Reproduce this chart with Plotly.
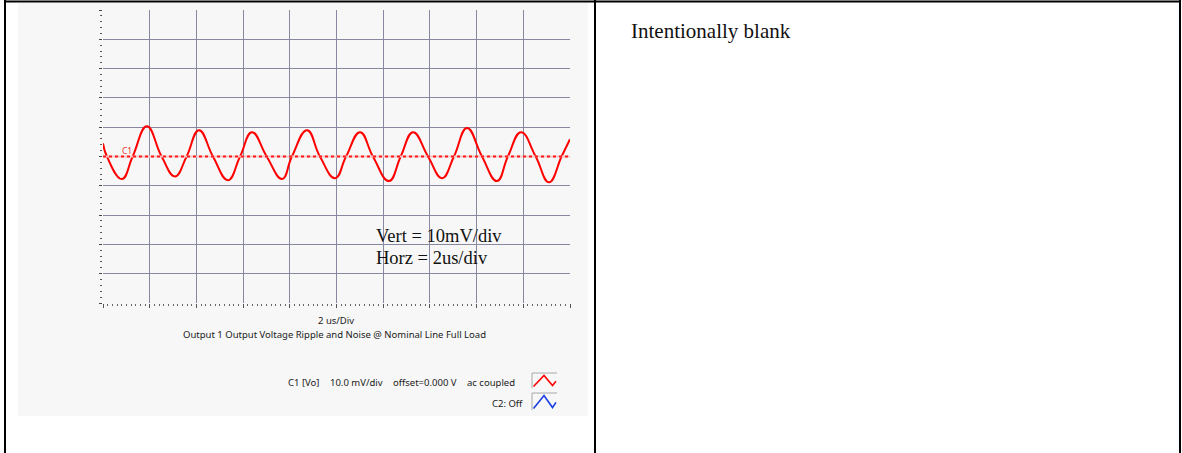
import plotly.graph_objects as go

W, H = 1182, 453

# ---- data: C1 trace, time (us) vs. voltage (mV), read at extrema / zero crossings
t_us = [0.00, 0.17, 0.81, 1.27, 1.88, 2.51, 3.08, 3.58, 4.11, 4.71, 5.35, 5.87,
        6.38, 7.01, 7.67, 8.09, 8.74, 9.29, 9.94, 10.41, 11.01, 11.56, 12.25,
        12.75, 13.28, 13.92, 14.52, 15.03, 15.59, 16.23, 16.87, 17.34, 17.90,
        18.53, 19.10, 19.64, 20.00]
v_mv = [4.5, 0, -7.7, 0, 10.3, 0, -6.8, 0, 9.0, 0, -8.1, 0,
        8.3, 0, -7.7, 0, 9.0, 0, -7.4, 0, 8.3, 0, -8.4,
        0, 8.3, 0, -7.4, 0, 9.7, 0, -8.4, 0, 8.3,
        0, -8.8, 0, 5.9]

x_range = [0, 20]      # 10 div x 2 us
y_range = [-50, 50]    # 10 div x 10 mV
x_div, y_div = 2, 10

title_scale = "2 us/Div"
title_main = "Output 1 Output Voltage Ripple and Noise @ Nominal Line Full Load"
note_lines = ["Vert = 10mV/div", "Horz = 2us/div"]
c1_info = ["C1 [Vo]", "10.0 mV/div", "offset=0.000 V", "ac coupled"]
c2_info = "C2: Off"
right_text = "Intentionally blank"


def px(x):
    return x / W


def py(y):
    return 1 - y / H


fig = go.Figure()
fig.add_trace(go.Scatter(
    x=t_us, y=v_mv, mode="lines",
    line=dict(color="#ff0000", width=2, shape="spline", smoothing=1.3),
    hoverinfo="skip", showlegend=False))

grid_col = "#8888a2"
fig.update_xaxes(
    domain=[px(103), px(570)], range=x_range, tick0=0, dtick=x_div,
    showgrid=True, gridcolor=grid_col, gridwidth=1, zeroline=False,
    showline=False, showticklabels=False, ticks="outside", ticklen=4,
    tickcolor="#555555", tickwidth=1,
    minor=dict(dtick=x_div / 10, ticks="outside", ticklen=2,
               tickcolor="#666666", showgrid=False))
fig.update_yaxes(
    domain=[py(303), py(10)], range=y_range, tick0=0, dtick=y_div,
    showgrid=True, gridcolor=grid_col, gridwidth=1, zeroline=False,
    showline=False, showticklabels=False, ticks="outside", ticklen=3,
    tickcolor="#444444", tickwidth=1,
    minor=dict(dtick=y_div / 5, ticks="outside", ticklen=2,
               tickcolor="#555555", showgrid=False))

shapes = []
# scope screenshot panel
shapes.append(dict(type="rect", xref="paper", yref="paper", layer="below",
                   x0=px(18), x1=px(588), y0=py(416), y1=py(3),
                   fillcolor="#f7f7f7", line=dict(width=0)))
# C1 reference level (dotted, on a faint pink base)
shapes.append(dict(type="line", xref="x", yref="y", x0=x_range[0], x1=x_range[1],
                   y0=0, y1=0, line=dict(color="#f6c4c4", width=2),
                   layer="above"))
shapes.append(dict(type="line", xref="x", yref="y", x0=x_range[0], x1=x_range[1],
                   y0=0, y1=0, line=dict(color="#ff1a1a", width=2, dash="dot"),
                   layer="above"))
# table borders
for (x0, y0, x1, y1) in [(5, 0, 5, H), (4, 1.5, 1181, 1.5), (595, 0, 595, H),
                         (1180, 0, 1180, H)]:
    shapes.append(dict(type="line", xref="paper", yref="paper",
                       x0=px(x0), y0=py(y0), x1=px(x1), y1=py(y1),
                       line=dict(color="black", width=2)))
# channel icons
for top, bot, col in [(373, 388, "#ff0000"), (393, 410, "#1a3fe0")]:
    shapes.append(dict(type="path", xref="paper", yref="paper",
                       path=f"M {px(532)},{py(bot)} L {px(532)},{py(top)} L {px(557)},{py(top)}",
                       line=dict(color="#a8a8a8", width=1)))
    h = bot - top
    path = (f"M {px(533.5)},{py(bot - 1.5)} L {px(544)},{py(top + 2.5)} "
            f"L {px(552.5)},{py(bot - 2.5)} L {px(556)},{py(top + h * 0.55)}")
    shapes.append(dict(type="path", xref="paper", yref="paper", path=path,
                       line=dict(color=col, width=1.6)))

sans = "Noto Sans"
serif = "Liberation Serif"
ann = []
ann.append(dict(text=right_text, x=px(630), y=py(31), xanchor="left", yanchor="middle",
                font=dict(family=serif, size=21, color="#111111")))
ann.append(dict(text=note_lines[0], x=px(375), y=py(236), xanchor="left", yanchor="middle",
                font=dict(family=serif, size=18.5, color="#111111")))
ann.append(dict(text=note_lines[1], x=px(375), y=py(258), xanchor="left", yanchor="middle",
                font=dict(family=serif, size=18.5, color="#111111")))
ann.append(dict(text=title_scale, x=px(335.5), y=py(320), xanchor="center", yanchor="middle",
                font=dict(family=sans, size=9.5, color="#1a1a1a")))
ann.append(dict(text=title_main, x=px(334.7), y=py(334), xanchor="center", yanchor="middle",
                font=dict(family=sans, size=9.5, color="#1a1a1a")))
for txt, x in zip(c1_info, [286.7, 329.3, 391.7, 465.7]):
    ann.append(dict(text=txt, x=px(x), y=py(382.5), xanchor="left", yanchor="middle",
                    font=dict(family=sans, size=9.5, color="#1a1a1a")))
ann.append(dict(text=c2_info, x=px(523.5), y=py(403.5), xanchor="right", yanchor="middle",
                font=dict(family=sans, size=9.5, color="#1a1a1a")))
ann.append(dict(text="C1", x=0.75, y=2.1, xref="x", yref="y", xanchor="left",
                yanchor="middle", font=dict(family=sans, size=8.5, color="#e83030")))
for a in ann:
    a.setdefault("xref", "paper")
    a.setdefault("yref", "paper")
    a["showarrow"] = False
    a["borderpad"] = 0

fig.update_layout(width=W, height=H, margin=dict(l=0, r=0, t=0, b=0),
                  paper_bgcolor="white", plot_bgcolor="#f7f7f7",
                  shapes=shapes, annotations=ann, showlegend=False)

fig.write_html("out.html", config={"displayModeBar": False},
               post_script="document.body.style.margin='0';document.body.style.overflow='hidden';")
